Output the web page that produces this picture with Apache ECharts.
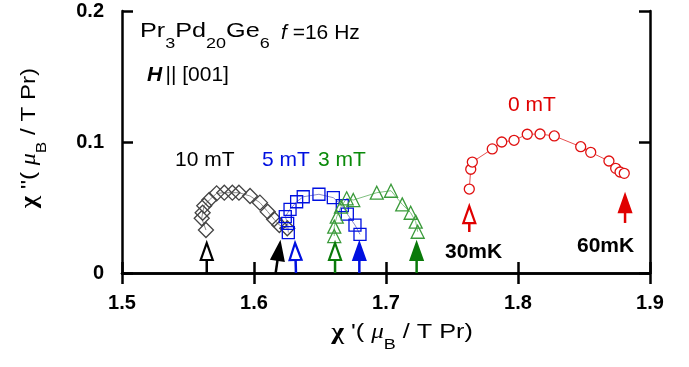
<!DOCTYPE html>
<html>
<head>
<meta charset="utf-8">
<script src="https://cdn.jsdelivr.net/npm/echarts@6/dist/echarts.min.js"></script>
<style>
  html, body { margin: 0; padding: 0; background: #fff; }
  #chart { width: 689px; height: 367px; }
</style>
</head>
<body>
<div id="chart"></div>
<script>
// tick labels
const xTicks = ['1.5', '1.6', '1.7', '1.8', '1.9']
const yTicks = ['0', '0.1', '0.2']

// chi' , chi'' (muB / T Pr)
const field10mT = [
  [1.5636, 0.0328], [1.5604, 0.0418], [1.5611, 0.0460], [1.5623, 0.0514], [1.5661, 0.0557],
  [1.5717, 0.0608], [1.5775, 0.0613], [1.5836, 0.0613], [1.5886, 0.0613], [1.5970, 0.0588],
  [1.6045, 0.0537], [1.6104, 0.0468], [1.6152, 0.0410], [1.6192, 0.0366], [1.6252, 0.0341],
]
const field5mT = [
  [1.6260, 0.0308], [1.6255, 0.0379], [1.6237, 0.0430], [1.6273, 0.0486], [1.6323, 0.0544],
  [1.6373, 0.0582], [1.6492, 0.0601], [1.6601, 0.0575], [1.6669, 0.0514], [1.6707, 0.0450],
  [1.6765, 0.0366], [1.6803, 0.0295],
]
const field3mT = [
  [1.6608, 0.0282], [1.6608, 0.0354], [1.6627, 0.0430], [1.6659, 0.0506], [1.6702, 0.0570],
  [1.6752, 0.0557], [1.6930, 0.0613], [1.7038, 0.0628], [1.7123, 0.0524], [1.7187, 0.0460],
  [1.7225, 0.0392], [1.7240, 0.0315],
]
const field0mT = [
  [1.7631, 0.0641], [1.7642, 0.0792], [1.7654, 0.0847], [1.7805, 0.0947], [1.7877, 0.1000],
  [1.7970, 0.1013], [1.8070, 0.1059], [1.8167, 0.1061], [1.8275, 0.1046], [1.8475, 0.0964],
  [1.8551, 0.0921], [1.8689, 0.0855], [1.8740, 0.0799], [1.8773, 0.0771], [1.8805, 0.0761],
]

// arrows: [x tip, y tip, x tail, y tail, filled]  (open = 30 mK, filled = 60 mK)
const arrows10mT = [[1.5642, 0.0229, 1.5642, 0, 0], [1.6197, 0.0229, 1.6164, 0, 1]]
const arrows5mT = [[1.6311, 0.0229, 1.6318, 0, 0], [1.6798, 0.0229, 1.6798, 0, 1]]
const arrows3mT = [[1.6614, 0.0229, 1.6614, 0, 0], [1.7232, 0.0229, 1.7232, 0, 1]]
const arrows0mT = [[1.7631, 0.0511, 1.7631, 0.0313, 0], [1.8811, 0.0595, 1.8811, 0.0382, 1]]

const FONT = 'Liberation Sans, Arial, sans-serif'

function arrowItem(color) {
  return function (params, api) {
    const tip = api.coord([api.value(0), api.value(1)])
    const tail = api.coord([api.value(2), api.value(3)])
    const filled = api.value(4) === 1
    const dx = tip[0] - tail[0], dy = tip[1] - tail[1]
    const len = Math.hypot(dx, dy)
    const ux = dx / len, uy = dy / len
    const headLen = 17, half = 6
    const bx = tip[0] - ux * headLen, by = tip[1] - uy * headLen
    const nx = -uy, ny = ux
    return {
      type: 'group',
      children: [
        { type: 'line', shape: { x1: tail[0], y1: tail[1], x2: bx, y2: by },
          style: { stroke: color, lineWidth: 2.5 } },
        { type: 'polygon',
          shape: { points: [tip, [bx + nx * half, by + ny * half], [bx - nx * half, by - ny * half]] },
          style: { fill: filled ? color : '#fff', stroke: color, lineWidth: 2.2 } },
      ],
    }
  }
}

function arrowSeries(data, color) {
  return {
    type: 'custom',
    renderItem: arrowItem(color),
    encode: { x: [0, 2], y: [1, 3] },
    data,
    z: 5,
    silent: true,
  }
}

function curve(data, symbol, size, color, lineColor, fill) {
  return {
    type: 'line',
    data,
    symbol,
    symbolSize: size,
    showAllSymbol: true,
    lineStyle: { color: lineColor, width: 1 },
    itemStyle: { color: fill, borderColor: color, borderWidth: 1.3 },
    emphasis: { disabled: true },
    z: 3,
  }
}

const axisCommon = {
  axisLine: { lineStyle: { color: '#000', width: 2.5 } },
  axisTick: { inside: true, length: 11, lineStyle: { color: '#000', width: 2.5 } },
  splitLine: { show: false },
}

const chart = echarts.init(document.getElementById('chart'), null, { renderer: 'canvas' })

const plainLabel = (x, y, text, color, bold) => ({
  type: 'text', x, y,
  style: { text, fill: color, font: (bold ? 'bold ' : '') + '21px ' + FONT, verticalAlign: 'middle' },
})

// rich styles with lowered subscripts
const richBase = {
  t: { fontSize: 21, verticalAlign: 'top', fontFamily: FONT, fill: '#000' },
  c: { fontSize: 23, verticalAlign: 'top', fontFamily: 'Liberation Serif', fontWeight: 'bold', fill: '#000' },
  m: { fontSize: 21, verticalAlign: 'top', fontFamily: 'Liberation Serif', fontStyle: 'italic', fill: '#000' },
  s: { fontSize: 15, verticalAlign: 'top', fontFamily: FONT, fill: '#000', padding: [15, 0, 0, 0] },
}

chart.setOption({
  animation: false,
  backgroundColor: '#fff',
  grid: { left: 122, top: 11, width: 528, height: 262 },
  xAxis: [
    Object.assign({}, axisCommon, {
      type: 'value', min: 1.5, max: 1.9, interval: 0.1,
      axisLabel: {
        margin: 20, color: '#000', fontSize: 20, fontWeight: 'bold', fontFamily: FONT,
        formatter: v => xTicks[Math.round((v - 1.5) / 0.1)],
      },
    }),
    Object.assign({}, axisCommon, {
      type: 'value', min: 1.5, max: 1.9, interval: 0.1, position: 'top',
      axisLabel: { show: false },
    }),
  ],
  yAxis: [
    Object.assign({}, axisCommon, {
      type: 'value', min: 0, max: 0.2, interval: 0.1,
      axisLabel: {
        margin: 18, color: '#000', fontSize: 20, fontWeight: 'bold', fontFamily: FONT,
        formatter: v => yTicks[Math.round(v / 0.1)],
      },
    }),
    Object.assign({}, axisCommon, {
      type: 'value', min: 0, max: 0.2, interval: 0.1, position: 'right',
      axisLabel: { show: false },
    }),
  ],
  series: [
    curve(field10mT, 'diamond', 15, '#444', '#888', 'rgba(0,0,0,0)'),
    curve(field5mT, 'rect', 12, '#0010e0', '#8888cc', 'rgba(0,0,0,0)'),
    curve(field3mT, 'triangle', 13, '#3a9a3a', '#80c080', 'rgba(0,0,0,0)'),
    curve(field0mT, 'circle', 10, '#e01010', '#e85050', '#fff'),
    arrowSeries(arrows10mT, '#000'),
    arrowSeries(arrows5mT, '#0010e0'),
    arrowSeries(arrows3mT, '#0a7a0a'),
    arrowSeries(arrows0mT, '#e00000'),
  ],
  graphic: [
    {
      type: 'text', x: 140, y: 21, scaleX: 1.2,
      style: {
        text: '{t|Pr}{s|3}{t|Pd}{s|20}{t|Ge}{s|6}',
        verticalAlign: 'top',
        rich: richBase,
      },
    },
    {
      type: 'text', x: 281, y: 33,
      style: {
        text: '{i|f}{t| =16 Hz}',
        verticalAlign: 'middle',
        rich: {
          t: { fontSize: 21, fontFamily: FONT, fill: '#000' },
          i: { fontSize: 21, fontFamily: FONT, fontStyle: 'italic', fill: '#000' },
        },
      },
    },
    {
      type: 'text', x: 147, y: 75,
      style: {
        text: '{b|H} {t||| [001]}',
        verticalAlign: 'middle',
        rich: {
          t: { fontSize: 21, fontFamily: FONT, fill: '#000' },
          b: { fontSize: 21, fontFamily: FONT, fontWeight: 'bold', fontStyle: 'italic', fill: '#000' },
        },
      },
    },
    plainLabel(175, 160, '10 mT', '#000'),
    plainLabel(262, 160, '5 mT', '#0010e0'),
    plainLabel(318, 160, '3 mT', '#0a8a0a'),
    plainLabel(508, 105, '0 mT', '#e00000'),
    plainLabel(445, 252, '30mK', '#000', true),
    plainLabel(577, 246, '60mK', '#000', true),
    {
      type: 'text', x: 402, y: 322, scaleX: 1.2,
      style: {
        text: '{c|χ}{t| \'( }{m|μ}{s|B}{t| / T Pr)}',
        align: 'center', verticalAlign: 'top',
        rich: richBase,
      },
    },
    {
      type: 'text', x: 19, y: 138, rotation: Math.PI / 2, scaleX: 1.15,
      style: {
        text: '{c|χ}{t| \'\'( }{m|μ}{s|B}{t| / T Pr)}',
        align: 'center', verticalAlign: 'top',
        rich: richBase,
      },
    },
  ],
})
</script>
</body>
</html>
